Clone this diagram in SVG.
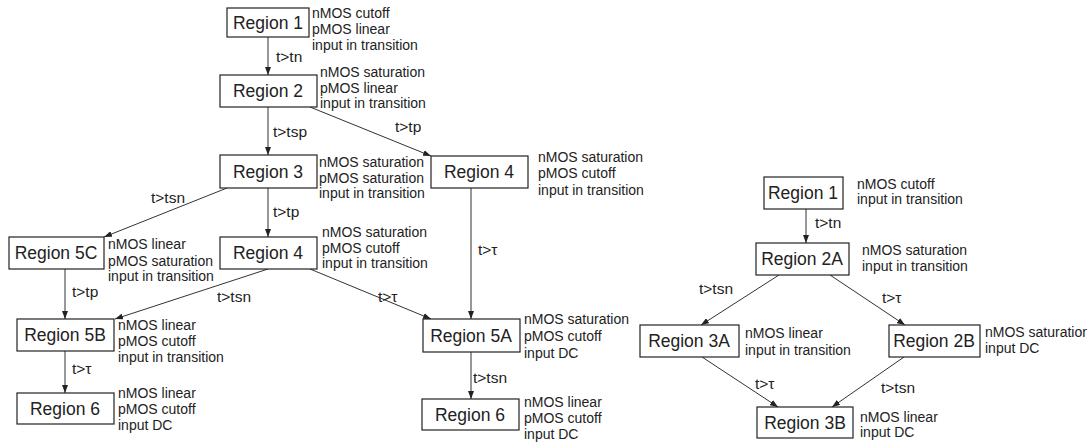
<svg xmlns="http://www.w3.org/2000/svg" width="1087" height="442" viewBox="0 0 1087 442">
<style>
.box{fill:#fff;stroke:#222;stroke-width:1.2}
.rt{font-family:"Liberation Sans",Arial,sans-serif;font-size:17.5px;fill:#222;text-anchor:middle}
.an{font-family:"Liberation Sans",Arial,sans-serif;font-size:14px;fill:#222}
.el{font-family:"Liberation Sans",Arial,sans-serif;font-size:15.5px;fill:#222}
.cn{stroke:#333;stroke-width:1;fill:none;marker-end:url(#ah)}
</style>
<defs>
<marker id="ah" markerUnits="userSpaceOnUse" markerWidth="8" markerHeight="6" refX="8" refY="3" orient="auto">
<path d="M0,0 L8,3 L0,6 z" fill="#222"/>
</marker>
</defs>
<rect width="1087" height="442" fill="#fff"/>
<g id="connectors">
<line class="cn" x1="268" y1="37" x2="268" y2="75"/>
<line class="cn" x1="268" y1="107" x2="268" y2="155"/>
<line class="cn" x1="310" y1="107" x2="431" y2="156"/>
<line class="cn" x1="227" y1="188" x2="104" y2="237"/>
<line class="cn" x1="268" y1="188" x2="268" y2="237"/>
<line class="cn" x1="471" y1="188" x2="471" y2="319"/>
<line class="cn" x1="65" y1="269" x2="65" y2="319"/>
<line class="cn" x1="268" y1="269" x2="115" y2="319"/>
<line class="cn" x1="310" y1="269" x2="431" y2="319"/>
<line class="cn" x1="65" y1="351" x2="65" y2="393"/>
<line class="cn" x1="471" y1="352" x2="471" y2="399"/>
<line class="cn" x1="806" y1="209" x2="806" y2="243"/>
<line class="cn" x1="779" y1="275" x2="701" y2="325"/>
<line class="cn" x1="830" y1="275" x2="905" y2="325"/>
<line class="cn" x1="702" y1="357" x2="778" y2="407"/>
<line class="cn" x1="904" y1="357" x2="832" y2="407"/>
<text class="el" x="276" y="62">t&gt;tn</text>
<text class="el" x="273" y="137">t&gt;tsp</text>
<text class="el" x="395" y="132">t&gt;tp</text>
<text class="el" x="151" y="203">t&gt;tsn</text>
<text class="el" x="273" y="217">t&gt;tp</text>
<text class="el" x="478" y="255">t&gt;τ</text>
<text class="el" x="72" y="297">t&gt;tp</text>
<text class="el" x="217" y="302">t&gt;tsn</text>
<text class="el" x="378" y="302">t&gt;τ</text>
<text class="el" x="473" y="383">t&gt;tsn</text>
<text class="el" x="72" y="374">t&gt;τ</text>
<text class="el" x="815" y="228">t&gt;tn</text>
<text class="el" x="699" y="294">t&gt;tsn</text>
<text class="el" x="882" y="303">t&gt;τ</text>
<text class="el" x="755" y="389">t&gt;τ</text>
<text class="el" x="881" y="393">t&gt;tsn</text>
</g>
<g id="L-region1">
<rect class="box" x="227" y="8" width="82" height="29"/>
<text class="rt" x="268" y="29">Region 1</text>
<text class="an" x="312" y="18">nMOS cutoff</text>
<text class="an" x="312" y="34">pMOS linear</text>
<text class="an" x="312" y="50">input in transition</text>
</g>
<g id="L-region2">
<rect class="box" x="220" y="75" width="97" height="32"/>
<text class="rt" x="268" y="97">Region 2</text>
<text class="an" x="320" y="77">nMOS saturation</text>
<text class="an" x="320" y="93">pMOS linear</text>
<text class="an" x="320" y="108">input in transition</text>
</g>
<g id="L-region3">
<rect class="box" x="220" y="155" width="97" height="33"/>
<text class="rt" x="268" y="178">Region 3</text>
<text class="an" x="319" y="167">nMOS saturation</text>
<text class="an" x="319" y="183">pMOS saturation</text>
<text class="an" x="319" y="198">input in transition</text>
</g>
<g id="L-region4a">
<rect class="box" x="431" y="156" width="97" height="32"/>
<text class="rt" x="479" y="178">Region 4</text>
<text class="an" x="538" y="162">nMOS saturation</text>
<text class="an" x="538" y="178">pMOS cutoff</text>
<text class="an" x="538" y="195">input in transition</text>
</g>
<g id="L-region4b">
<rect class="box" x="220" y="237" width="97" height="32"/>
<text class="rt" x="268" y="259">Region 4</text>
<text class="an" x="322" y="237">nMOS saturation</text>
<text class="an" x="322" y="253">pMOS cutoff</text>
<text class="an" x="322" y="268">input in transition</text>
</g>
<g id="L-region5c">
<rect class="box" x="9" y="237" width="95" height="32"/>
<text class="rt" x="56" y="259">Region 5C</text>
<text class="an" x="108" y="249">nMOS linear</text>
<text class="an" x="108" y="266">pMOS saturation</text>
<text class="an" x="108" y="281">input in transition</text>
</g>
<g id="L-region5b">
<rect class="box" x="17" y="319" width="97" height="32"/>
<text class="rt" x="65" y="341">Region 5B</text>
<text class="an" x="118" y="330">nMOS linear</text>
<text class="an" x="118" y="346">pMOS cutoff</text>
<text class="an" x="118" y="362">input in transition</text>
</g>
<g id="L-region5a">
<rect class="box" x="423" y="319" width="97" height="33"/>
<text class="rt" x="471" y="342">Region 5A</text>
<text class="an" x="524" y="324">nMOS saturation</text>
<text class="an" x="524" y="341">pMOS cutoff</text>
<text class="an" x="524" y="358">input DC</text>
</g>
<g id="L-region6a">
<rect class="box" x="17" y="393" width="97" height="31"/>
<text class="rt" x="65" y="415">Region 6</text>
<text class="an" x="118" y="398">nMOS linear</text>
<text class="an" x="118" y="414">pMOS cutoff</text>
<text class="an" x="118" y="430">input DC</text>
</g>
<g id="L-region6b">
<rect class="box" x="422" y="399" width="97" height="31"/>
<text class="rt" x="470" y="421">Region 6</text>
<text class="an" x="524" y="407">nMOS linear</text>
<text class="an" x="524" y="423">pMOS cutoff</text>
<text class="an" x="524" y="439">input DC</text>
</g>
<g id="R-region1">
<rect class="box" x="764" y="177" width="79" height="32"/>
<text class="rt" x="803" y="199">Region 1</text>
<text class="an" x="857" y="189">nMOS cutoff</text>
<text class="an" x="857" y="204">input in transition</text>
</g>
<g id="R-region2a">
<rect class="box" x="756" y="243" width="93" height="32"/>
<text class="rt" x="802" y="265">Region 2A</text>
<text class="an" x="862" y="255">nMOS saturation</text>
<text class="an" x="862" y="271">input in transition</text>
</g>
<g id="R-region3a">
<rect class="box" x="640" y="325" width="99" height="32"/>
<text class="rt" x="689" y="347">Region 3A</text>
<text class="an" x="745" y="338">nMOS linear</text>
<text class="an" x="745" y="355">input in transition</text>
</g>
<g id="R-region2b">
<rect class="box" x="889" y="325" width="91" height="32"/>
<text class="rt" x="934" y="347">Region 2B</text>
<text class="an" x="985" y="337">nMOS saturation</text>
<text class="an" x="985" y="353">input DC</text>
</g>
<g id="R-region3b">
<rect class="box" x="757" y="407" width="96" height="31"/>
<text class="rt" x="805" y="429">Region 3B</text>
<text class="an" x="860" y="422">nMOS linear</text>
<text class="an" x="860" y="437">input DC</text>
</g>
</svg>
